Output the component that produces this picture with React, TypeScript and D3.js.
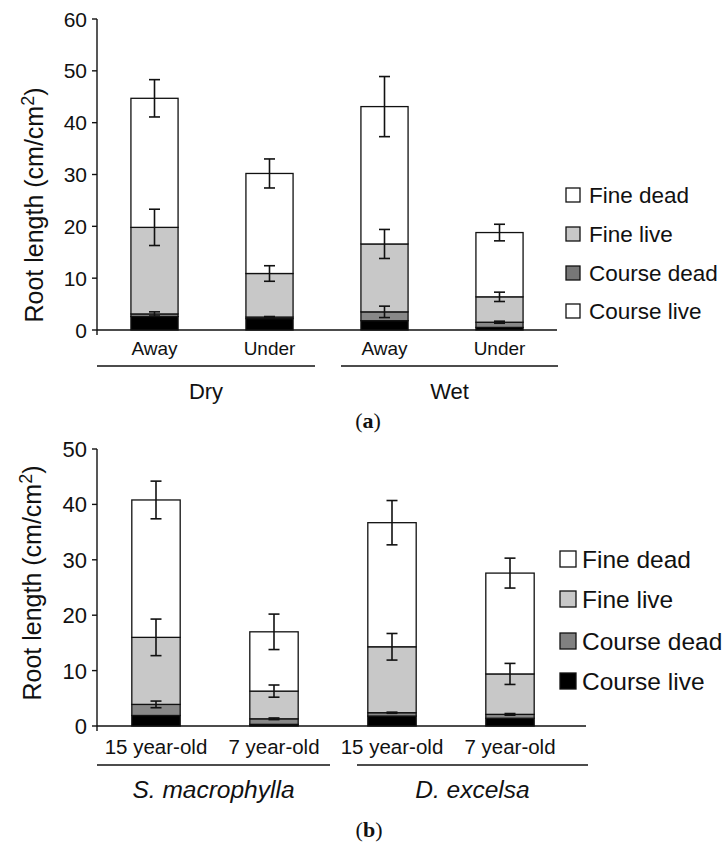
import React from 'react';
import * as d3 from 'd3';

// ---------- Panel (a) data ----------
const catsA = ['Away', 'Under', 'Away', 'Under'];
const groupsA = ['Dry', 'Wet'];
const courseLiveA = [2.6, 2.2, 1.8, 0.5];
const courseDeadA = [0.5, 0.3, 1.7, 1.0];
const fineLiveA = [16.7, 8.4, 13.1, 4.9];
const fineDeadA = [24.9, 19.3, 26.5, 12.4];
const errCourseDeadA = [0.4, 0.1, 1.1, 0.2];
const errFineLiveA = [3.5, 1.5, 2.8, 0.9];
const errFineDeadA = [3.6, 2.8, 5.8, 1.6];
const ticksA = [0, 10, 20, 30, 40, 50, 60];

// ---------- Panel (b) data ----------
const catsB = ['15 year-old', '7 year-old', '15 year-old', '7 year-old'];
const groupsB = ['S. macrophylla', 'D. excelsa'];
const courseLiveB = [1.9, 0.3, 1.8, 1.4];
const courseDeadB = [2.0, 1.0, 0.6, 0.7];
const fineLiveB = [12.1, 5.0, 11.9, 7.3];
const fineDeadB = [24.8, 10.7, 22.4, 18.2];
const errCourseDeadB = [0.6, 0.15, 0.1, 0.15];
const errFineLiveB = [3.3, 1.1, 2.4, 1.9];
const errFineDeadB = [3.4, 3.2, 4.0, 2.7];
const ticksB = [0, 10, 20, 30, 40, 50];

const seriesKeys = ['courseLive', 'courseDead', 'fineLive', 'fineDead'];
const legendLabels = ['Fine dead', 'Fine live', 'Course dead', 'Course live'];
const barFills = ['#000000', '#888888', '#c8c8c8', '#ffffff'];
const legendFillsA = ['#ffffff', '#c8c8c8', '#777777', '#ffffff'];
const legendFillsB = ['#ffffff', '#c8c8c8', '#808080', '#000000'];

const SANS = '"Liberation Sans", Arial, Helvetica, sans-serif';
const INK = '#111';

type PanelProps = {
  cats: string[];
  groups: string[];
  cl: number[]; cd: number[]; fl: number[]; fd: number[];
  ecd: number[]; efl: number[]; efd: number[];
  ticks: number[];
  yMax: number;
  yTop: number; yBase: number;
  xStart: number; xEnd: number; baseEnd: number;
  groupLines: [number, number][];
  catY: number; groupY: number; groupItalic: boolean;
  tickSize: number; catSize: number; groupSize: number; legendSize: number;
  titleX: number; titleY: number;
  legendFills: string[];
  legX: number; legSq: number; legRows: number[]; legTextX: number;
  tag: string; tagX: number; tagY: number;
};

function Panel(p: PanelProps) {
  const x = d3.scaleBand<number>()
    .domain(p.cats.map((_, i) => i))
    .range([p.xStart, p.xEnd])
    .paddingInner(0.59)
    .paddingOuter(0.295);
  const y = d3.scaleLinear().domain([0, p.yMax]).range([p.yBase, p.yTop]);
  const rows = p.cats.map((_, i) => ({
    courseLive: p.cl[i], courseDead: p.cd[i], fineLive: p.fl[i], fineDead: p.fd[i],
  }));
  const stacked = d3.stack<any>().keys(seriesKeys)(rows);
  const errs = [null, p.ecd, p.efl, p.efd];
  const bw = x.bandwidth();
  const cap = 5.5;

  return (
    <g>
      {stacked.map((s, si) => (
        <g key={si}>
          {s.map((d, i) => (
            <rect key={i} x={x(i)} y={y(d[1])} width={bw} height={Math.max(0, y(d[0]) - y(d[1]))}
              fill={barFills[si]} stroke={INK} strokeWidth={1.3} />
          ))}
        </g>
      ))}
      {stacked.map((s, si) => errs[si] ? (
        <g key={'e' + si} stroke={INK} strokeWidth={1.6}>
          {s.map((d, i) => {
            const e = (errs[si] as number[])[i];
            const cx = (x(i) as number) + bw / 2;
            const t = y(d[1] + e), b = y(Math.max(0, d[1] - e));
            return (
              <g key={i}>
                <line x1={cx} x2={cx} y1={t} y2={b} />
                <line x1={cx - cap} x2={cx + cap} y1={t} y2={t} />
                <line x1={cx - cap} x2={cx + cap} y1={b} y2={b} />
              </g>
            );
          })}
        </g>
      ) : null)}
      <line x1={p.xStart} x2={p.baseEnd} y1={p.yBase} y2={p.yBase} stroke={INK} strokeWidth={1.4} />
      <line x1={p.xStart} x2={p.xStart} y1={y(p.yMax)} y2={p.yBase + 5} stroke={INK} strokeWidth={1.4} />
      {p.ticks.map((t) => (
        <g key={t}>
          <line x1={p.xStart - 5} x2={p.xStart} y1={y(t)} y2={y(t)} stroke={INK} strokeWidth={1.4} />
          <text x={p.xStart - 10} y={y(t)} dy="0.36em" textAnchor="end" fontSize={p.tickSize}
            fontFamily={SANS} fill={INK}>{t}</text>
        </g>
      ))}
      <text transform={`translate(${p.titleX},${p.titleY}) rotate(-90)`} textAnchor="middle"
        fontSize={25} fontFamily={SANS} fill={INK}>
        Root length (cm/cm<tspan dy="-9" fontSize={18}>2</tspan><tspan dy="9">)</tspan>
      </text>
      {p.cats.map((c, i) => (
        <text key={i} x={(x(i) as number) + bw / 2} y={p.catY} textAnchor="middle"
          fontSize={p.catSize} fontFamily={SANS} fill={INK}>{c}</text>
      ))}
      {p.groupLines.map(([a, b], gi) => (
        <g key={gi}>
          <line x1={a} x2={b} y1={p.catY + 11} y2={p.catY + 11} stroke={INK} strokeWidth={1.4} />
          <text x={(a + b) / 2} y={p.groupY} textAnchor="middle" fontSize={p.groupSize}
            fontStyle={p.groupItalic ? 'italic' : 'normal'} fontFamily={SANS} fill={INK}>{p.groups[gi]}</text>
        </g>
      ))}
      {legendLabels.map((l, li) => (
        <g key={l}>
          <rect x={p.legX} y={p.legRows[li] - p.legSq} width={p.legSq} height={p.legSq}
            fill={p.legendFills[li]} stroke={INK} strokeWidth={1.3} />
          <text x={p.legTextX} y={p.legRows[li] + 1} fontSize={p.legendSize} fontFamily={SANS} fill={INK}>{l}</text>
        </g>
      ))}
      <text x={p.tagX} y={p.tagY} textAnchor="middle" fontSize={22} fontFamily='"Liberation Serif", "Times New Roman", serif' fill={INK}>
        (<tspan fontWeight="bold">{p.tag}</tspan>)
      </text>
    </g>
  );
}

export default function App() {
  return (
    <svg width={727} height={842} style={{ position: 'absolute', left: 0, top: 0, background: '#fff' }}>
      <rect width={727} height={842} fill="#fff" />
      <Panel
        cats={catsA} groups={groupsA}
        cl={courseLiveA} cd={courseDeadA} fl={fineLiveA} fd={fineDeadA}
        ecd={errCourseDeadA} efl={errFineLiveA} efd={errFineDeadA}
        ticks={ticksA} yMax={60} yTop={19} yBase={330}
        xStart={97} xEnd={557} baseEnd={557}
        groupLines={[[97, 315], [341, 558]]}
        catY={355} groupY={399} groupItalic={false}
        tickSize={21} catSize={19} groupSize={22} legendSize={22.5}
        titleX={43} titleY={205}
        legendFills={legendFillsA}
        legX={566} legSq={14} legRows={[202, 241, 280, 318]} legTextX={589}
        tag="a" tagX={368} tagY={428}
      />
      <Panel
        cats={catsB} groups={groupsB}
        cl={courseLiveB} cd={courseDeadB} fl={fineLiveB} fd={fineDeadB}
        ecd={errCourseDeadB} efl={errFineLiveB} efd={errFineDeadB}
        ticks={ticksB} yMax={50} yTop={449} yBase={726}
        xStart={97} xEnd={569} baseEnd={586}
        groupLines={[[97, 330], [357, 588]]}
        catY={754} groupY={798} groupItalic={true}
        tickSize={22} catSize={20.5} groupSize={24.5} legendSize={24.5}
        titleX={41} titleY={583}
        legendFills={legendFillsB}
        legX={560} legSq={16} legRows={[567, 607, 649, 689]} legTextX={582}
        tag="b" tagX={369} tagY={837}
      />
    </svg>
  );
}
